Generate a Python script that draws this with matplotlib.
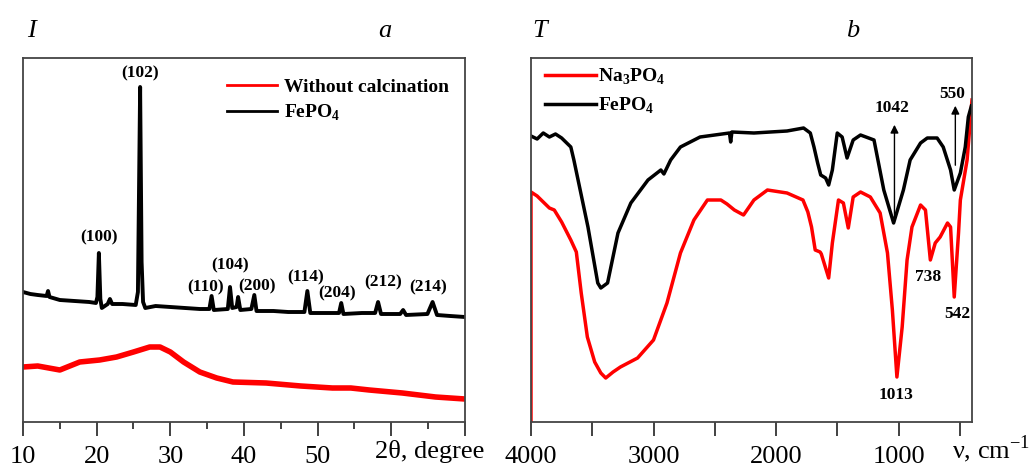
import matplotlib
matplotlib.use("Agg")
import matplotlib.pyplot as plt

plt.rcParams['font.family'] = ['Liberation Serif', 'DejaVu Serif']
plt.rcParams['mathtext.fontset'] = 'custom'
plt.rcParams['mathtext.rm'] = 'Liberation Serif:bold'
plt.rcParams['mathtext.bf'] = 'Liberation Serif:bold'

# ---- XRD (panel a) ----
xrd_two_theta = [10, 11, 12, 13.2, 13.4, 13.6, 15, 17, 19, 19.9, 20.1, 20.3, 20.5, 20.7,
                 21.5, 21.8, 22.1, 23.5, 25.3, 25.6, 25.9, 26.1, 26.3, 26.6, 28, 30, 32,
                 34, 35.3, 35.6, 35.9, 37.8, 38.1, 38.4, 39.0, 39.2, 39.5, 41.0, 41.4,
                 41.7, 44, 46, 48.2, 48.6, 49.0, 51, 52.9, 53.2, 53.5, 56, 57.8, 58.2,
                 58.6, 61.2, 61.6, 62, 64.9, 65.6, 66.2, 68, 70]
xrd_fepo4 = [130, 128, 127, 126, 131, 125, 122, 121, 120, 119, 125, 169, 123, 114,
             118, 123, 118, 118, 117, 130, 335, 160, 120, 114, 116, 115, 114,
             113, 113, 126, 112, 113, 135, 114, 115, 125, 112, 113, 127,
             111, 111, 110, 110, 131, 109, 109, 109, 119, 108, 109, 109, 120,
             108, 108, 112, 107, 108, 120, 107, 106, 105]

raw_two_theta = [10, 12, 15, 17.7, 20.4, 22.7, 25, 27.2, 28.6, 30, 31.8, 34, 36.3,
                 38.5, 43, 47.7, 52, 54.5, 57, 61.5, 66, 70]
raw_intensity = [55, 56, 52, 60, 62, 65, 70, 75, 75, 70, 60, 50, 44,
                 40, 39, 36, 34, 34, 32, 29, 25, 23]

hkl_labels = ['(100)', '(102)', '(110)', '(104)', '(200)', '(114)', '(204)', '(212)', '(214)']
hkl_x = [20.3, 25.9, 34.8, 38.1, 41.8, 48.4, 52.7, 58.9, 65.0]
hkl_y = [185, 349, 135, 157, 136, 145, 129, 140, 135]

# ---- FTIR (panel b) ----
ir_fepo4_nu = [4000, 3950, 3900, 3850, 3800, 3750, 3675, 3650, 3535, 3455, 3430, 3375,
               3290, 3185, 3045, 2940, 2915, 2860, 2780, 2620, 2380, 2370, 2360, 2180,
               1910, 1775, 1720, 1690, 1660, 1635, 1595, 1570, 1540, 1500, 1460, 1420,
               1370, 1310, 1200, 1120, 1040, 960, 905, 820, 765, 685, 635, 575, 545,
               495, 455, 430, 405]
ir_fepo4_t = [286, 283, 289, 285, 288, 284, 275, 262, 195, 139, 134, 139,
              189, 219, 242, 252, 248, 262, 275, 285, 289, 280, 290, 289,
              291, 294, 289, 275, 259, 247, 244, 237, 252, 289, 285, 264,
              282, 287, 282, 232, 199, 232, 262, 279, 284, 284, 275, 252, 232,
              249, 275, 305, 316]

ir_na_nu = [4000, 4000, 3950, 3900, 3850, 3810, 3750, 3675, 3630, 3590, 3540, 3480,
            3430, 3390, 3330, 3270, 3130, 3000, 2890, 2780, 2670, 2560, 2450, 2400,
            2340, 2265, 2180, 2070, 1910, 1780, 1740, 1710, 1680, 1640, 1630, 1570,
            1540, 1490, 1450, 1410, 1370, 1310, 1230, 1150, 1090, 1050, 1013, 970,
            930, 890, 820, 780, 740, 700, 660, 600, 575, 545, 510, 495, 440, 400]
ir_na_t = [0, 230, 226, 220, 214, 212, 200, 182, 170, 129, 85, 60,
           49, 44, 50, 55, 64, 82, 119, 169, 202, 222, 222, 218,
           212, 207, 222, 232, 229, 222, 210, 195, 172, 170, 168, 144,
           179, 222, 219, 194, 225, 230, 225, 209, 169, 112, 45, 95,
           162, 195, 217, 212, 162, 179, 185, 199, 195, 125, 189, 222, 262, 322]

ir_labels = ['1042', '550', '738', '542', '1013']
ir_label_x = [1050, 560, 755, 520, 1020]
ir_label_y = [314, 328, 145, 108, 27]

W, H = 1032, 468
fig = plt.figure(figsize=(W / 100, H / 100), dpi=100)
ax1 = fig.add_axes([23 / W, 46 / H, 442 / W, 364 / H])
ax2 = fig.add_axes([531 / W, 46 / H, 441 / W, 364 / H])

for ax in (ax1, ax2):
    for s in ax.spines.values():
        s.set_linewidth(1.3)
        s.set_color('#444444')
    ax.set_yticks([])
    ax.set_ylim(0, 364)

# panel a
ax1.plot(raw_two_theta, raw_intensity, color='red', lw=4.0, label='Without calcination')
ax1.plot(xrd_two_theta, xrd_fepo4, color='black', lw=2.8, label=r'FePO$_{4}$')
for lab, x, y in zip(hkl_labels, hkl_x, hkl_y):
    ax1.text(x, y, lab, ha='center', va='center', fontsize=12.5, fontweight='bold')
ax1.set_xlim(10, 70)
ax1.set_xticks([10, 20, 30, 40, 50, 60, 70])
ax1.set_xticklabels(['10', '20', '30', '40', '50', '', ''])
ax1.set_xticks([15, 25, 35, 45, 55, 65], minor=True)
ax1.tick_params(axis='x', which='major', length=10, width=1.3, labelsize=19, pad=7,
                color='#333333')
ax1.tick_params(axis='x', which='minor', length=5, width=1.3, color='#333333')
leg1 = ax1.legend(loc='upper left', bbox_to_anchor=(0.461, 0.945), frameon=False,
                  borderpad=0, borderaxespad=0, handlelength=2.6, handletextpad=0.35,
                  labelspacing=0.35, prop={'weight': 'bold', 'size': 14})
for ln in leg1.get_lines():
    ln.set_linewidth(2.0)

# panel b
ax2.plot(ir_na_nu, ir_na_t, color='red', lw=2.5, label=r'Na$_{3}$PO$_{4}$')
ax2.plot(ir_fepo4_nu, ir_fepo4_t, color='black', lw=2.5, label=r'FePO$_{4}$')
ax2.annotate('', xy=(1033, 300), xytext=(1033, 200),
             arrowprops=dict(arrowstyle='-|>', color='black', lw=1, mutation_scale=12))
ax2.annotate('', xy=(536, 319), xytext=(536, 254),
             arrowprops=dict(arrowstyle='-|>', color='black', lw=1, mutation_scale=12))
for lab, x, y in zip(ir_labels, ir_label_x, ir_label_y):
    ax2.text(x, y, lab, ha='center', va='center', fontsize=12.5, fontweight='bold')
ax2.set_xlim(4000, 400)
ax2.set_xticks([4000, 3000, 2000, 1000])
ax2.set_xticks([3500, 2500, 1500, 500], minor=True)
ax2.tick_params(axis='x', which='both', length=10, width=1.3, labelsize=19, pad=7,
                color='#333333')
leg2 = ax2.legend(loc='upper left', bbox_to_anchor=(0.032, 0.975), frameon=False,
                  borderpad=0, borderaxespad=0, handlelength=2.6, handletextpad=0.1,
                  labelspacing=0.45, prop={'weight': 'bold', 'size': 14})
for ln in leg2.get_lines():
    ln.set_linewidth(2.5)

# axis captions and panel letters
fig.text(375 / W, 1 - 458 / H, '2θ, degree', fontsize=19, ha='left', va='baseline')
fig.text(1030 / W, 1 - 458 / H, 'ν, cm$^{\\mathregular{−1}}$', fontsize=19, ha='right',
         va='baseline', math_fontfamily='dejavuserif')
fig.text(27 / W, 1 - 37 / H, 'I', fontsize=19, style='italic', ha='left', va='baseline')
fig.text(378 / W, 1 - 37 / H, 'a', fontsize=19, style='italic', ha='left', va='baseline')
fig.text(532 / W, 1 - 37 / H, 'T', fontsize=19, style='italic', ha='left', va='baseline')
fig.text(846 / W, 1 - 37 / H, 'b', fontsize=19, style='italic', ha='left', va='baseline')

fig.savefig('out.png', dpi=100, facecolor='white')
